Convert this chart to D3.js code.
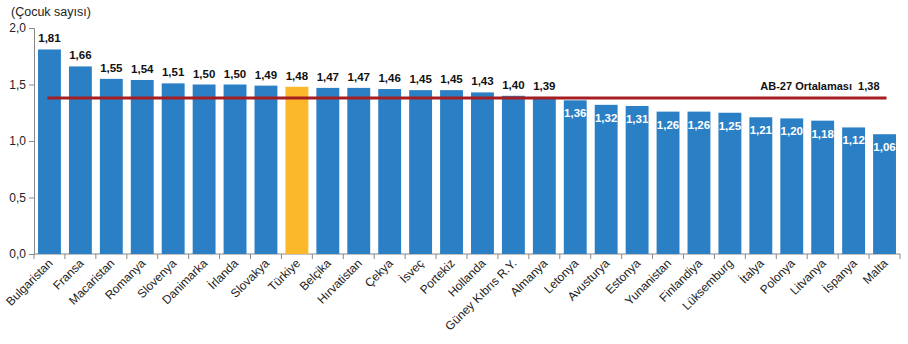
<!DOCTYPE html>
<html>
<head>
<meta charset="utf-8">
<script src="https://cdn.jsdelivr.net/npm/d3@7"></script>
<style>
  body { margin: 0; background: #fff; }
  svg { font-family: "Liberation Sans", Arial, sans-serif; }
</style>
</head>
<body>
<svg id="chart"></svg>
<script>
// countries, sorted by total fertility rate
var countries = ["Bulgaristan", "Fransa", "Macaristan", "Romanya", "Slovenya", "Danimarka", "İrlanda", "Slovakya",
  "Türkiye", "Belçika", "Hırvatistan", "Çekya", "İsveç", "Portekiz", "Hollanda", "Güney Kıbrıs R.Y.", "Almanya",
  "Letonya", "Avusturya", "Estonya", "Yunanistan", "Finlandiya", "Lüksemburg", "İtalya", "Polonya", "Litvanya",
  "İspanya", "Malta"];
var rates = [1.81, 1.66, 1.55, 1.54, 1.51, 1.50, 1.50, 1.49, 1.48, 1.47, 1.47, 1.46, 1.45, 1.45, 1.43, 1.40, 1.39,
  1.36, 1.32, 1.31, 1.26, 1.26, 1.25, 1.21, 1.20, 1.18, 1.12, 1.06];
var euAverage = 1.38;
var yTicks = [0, 0.5, 1.0, 1.5, 2.0];

const width = 908, height = 344;
var margin = {top: 28, left: 34, right: 8, bottom: 90};

var svg = d3.select("#chart").attr("width", width).attr("height", height);
var fmt = d => d3.format(".2f")(d).replace(".", ",");

var xScale = d3.scaleBand().domain(countries).range([margin.left, width - margin.right]).paddingInner(0.26).paddingOuter(0.13);
var yScale = d3.scaleLinear().domain([0, 2]).range([height - margin.bottom, margin.top]);
var y0 = yScale(0);
var mid = d => xScale(d) + xScale.bandwidth() / 2;

// unit title
svg.append("text").attr("x", 11).attr("y", 16).attr("font-size", 12.5).attr("fill", "#222").text("(Çocuk sayısı)");

// y axis
var yAxis = svg.append("g").attr("transform", `translate(${margin.left},0)`)
  .call(d3.axisLeft(yScale).tickValues(yTicks).tickSize(5).tickFormat(d => d3.format(".1f")(d).replace(".", ",")));
yAxis.select(".domain").attr("stroke", "#888");
yAxis.selectAll(".tick line").attr("stroke", "#888");
yAxis.selectAll(".tick text").attr("font-size", 12).attr("fill", "#222").attr("x", -8);

// x axis line with ticks between the categories
var step = xScale.step();
var xStart = margin.left;
svg.append("line").attr("x1", xStart).attr("x2", width - margin.right).attr("y1", y0).attr("y2", y0).attr("stroke", "#888");
svg.selectAll(".xtick").data(d3.range(countries.length + 1)).join("line").attr("class", "xtick")
  .attr("x1", i => xStart + i * step).attr("x2", i => xStart + i * step)
  .attr("y1", y0).attr("y2", y0 + 5).attr("stroke", "#888");

// bars
svg.selectAll(".bar").data(countries).join("rect").attr("class", "bar")
  .attr("x", d => xScale(d)).attr("width", xScale.bandwidth())
  .attr("y", (d, i) => yScale(rates[i])).attr("height", (d, i) => y0 - yScale(rates[i]))
  .attr("fill", d => d === "Türkiye" ? "#fbb829" : "#2b80c5");

// value labels: above the bar if over the average, inside the bar otherwise
svg.selectAll(".val").data(countries).join("text").attr("class", "val")
  .attr("x", d => mid(d))
  .attr("y", (d, i) => rates[i] > euAverage ? yScale(rates[i]) - 7 : yScale(rates[i]) + 17)
  .attr("text-anchor", "middle").attr("font-size", 11.5).attr("font-weight", "bold")
  .attr("fill", (d, i) => rates[i] > euAverage ? "#111" : "#fff")
  .text((d, i) => fmt(rates[i]));

// category labels
svg.selectAll(".cat").data(countries).join("text").attr("class", "cat")
  .attr("transform", d => `translate(${mid(d) + 4},${y0 + 10}) rotate(-45)`)
  .attr("text-anchor", "end").attr("font-size", 12).attr("fill", "#222")
  .text(d => d);

// EU-27 average line, from the first bar centre to the last
var avgY = yScale(euAverage);
var last = countries[countries.length - 1];
svg.append("line").attr("x1", mid(countries[0]) - 2).attr("x2", mid(last) + 2)
  .attr("y1", avgY).attr("y2", avgY).attr("stroke", "#a51e22").attr("stroke-width", 3);
svg.append("text").attr("x", mid(last) - 5).attr("y", avgY - 8)
  .attr("text-anchor", "end").attr("font-size", 11).attr("font-weight", "bold").attr("fill", "#111")
  .attr("xml:space", "preserve")
  .text("AB-27 Ortalaması  " + fmt(euAverage));
</script>
</body>
</html>
